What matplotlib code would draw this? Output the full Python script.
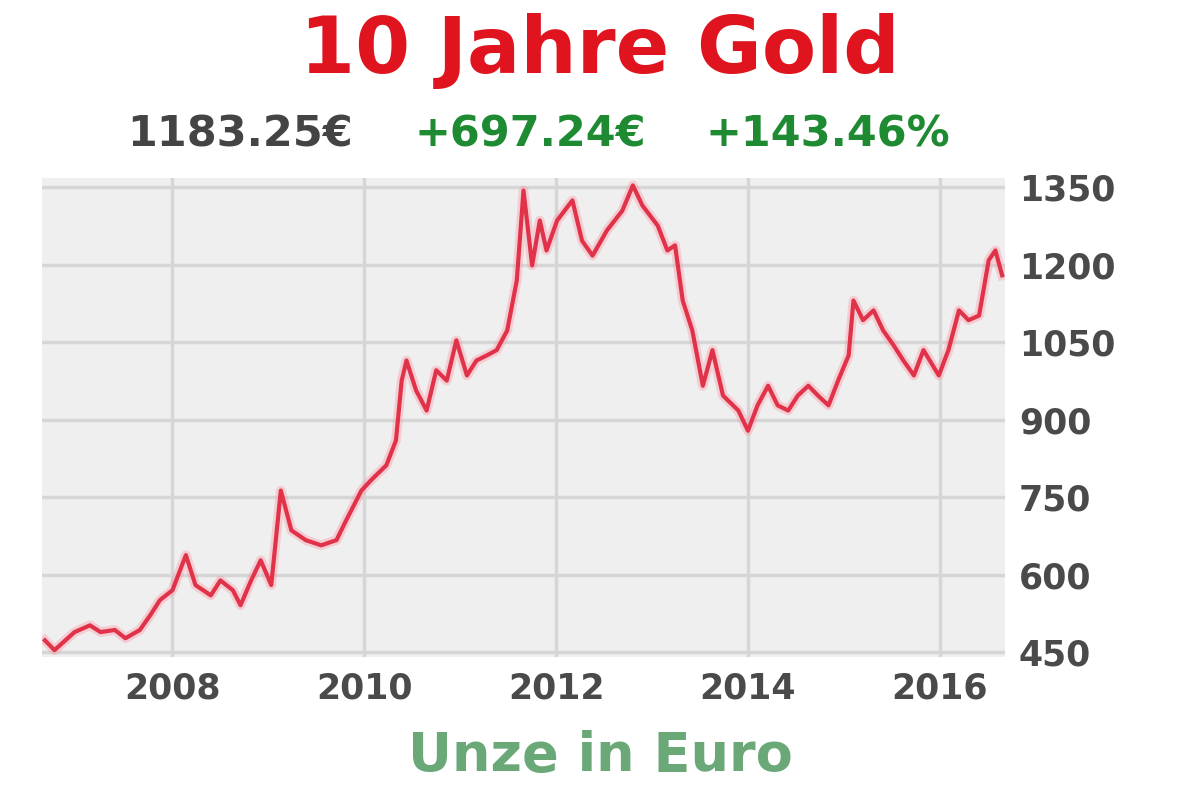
import matplotlib
matplotlib.use('Agg')
import matplotlib.pyplot as plt
import numpy as np

# Goldpreis in Euro je Unze, Werte aus dem Bild geschaetzt
jahre = [2006.67, 2006.77, 2006.98, 2007.14, 2007.25, 2007.40, 2007.51, 2007.66, 2007.77, 2007.87,
         2008.00, 2008.14, 2008.24, 2008.40, 2008.50, 2008.63, 2008.71, 2008.82, 2008.92, 2009.03,
         2009.13, 2009.24, 2009.39, 2009.55, 2009.71, 2009.81, 2009.97, 2010.07, 2010.23, 2010.33,
         2010.39, 2010.44, 2010.54, 2010.65, 2010.75, 2010.86, 2010.96, 2011.07, 2011.17, 2011.28,
         2011.38, 2011.49, 2011.59, 2011.66, 2011.75, 2011.83, 2011.90, 2012.01, 2012.17, 2012.27,
         2012.38, 2012.53, 2012.69, 2012.80, 2012.90, 2013.06, 2013.16, 2013.24, 2013.32, 2013.42,
         2013.53, 2013.63, 2013.74, 2013.90, 2014.00, 2014.10, 2014.21, 2014.31, 2014.42, 2014.52,
         2014.63, 2014.73, 2014.84, 2014.94, 2015.05, 2015.10, 2015.20, 2015.31, 2015.41, 2015.52,
         2015.62, 2015.73, 2015.83, 2015.99, 2016.09, 2016.20, 2016.30, 2016.41, 2016.51, 2016.58,
         2016.65]
preis = [473, 454, 489, 502, 489, 493, 477, 493, 522, 551,
         570, 638, 580, 560, 589, 570, 541, 589, 628, 580,
         763, 686, 667, 657, 667, 705, 763, 783, 812, 860,
         976, 1015, 957, 918, 996, 976, 1054, 986, 1015, 1025,
         1035, 1073, 1170, 1344, 1199, 1286, 1228, 1286, 1325, 1247,
         1218, 1267, 1305, 1354, 1315, 1276, 1228, 1238, 1131, 1073,
         966, 1035, 947, 918, 879, 928, 966, 928, 918, 947,
         966, 947, 928, 976, 1025, 1131, 1093, 1112, 1073, 1044,
         1015, 986, 1035, 986, 1035, 1112, 1093, 1102, 1209, 1228,
         1180]

x_ticks = [2008, 2010, 2012, 2014, 2016]
y_ticks = [450, 600, 750, 900, 1050, 1200, 1350]

titel = '10 Jahre Gold'
kurs = '1183.25€'
diff_abs = '+697.24€'
diff_pct = '+143.46%'
einheit = 'Unze in Euro'

fig = plt.figure(figsize=(12, 7.92), dpi=100)
ax = fig.add_axes([0.035, 0.170, 0.8025, 0.605])
ax.set_facecolor('#efefef')

ax.plot(jahre, preis, color='#ff8fa0', lw=7, alpha=0.35)
ax.plot(jahre, preis, color='#e0334a', lw=3)

ax.set_xlim(2006.64, 2016.68)
ax.set_ylim(440, 1368)
ax.set_xticks(x_ticks)
ax.set_yticks(y_ticks)
ax.yaxis.tick_right()
ax.grid(True, color='#d6d6d6', lw=2.5)
ax.set_axisbelow(True)
ax.tick_params(length=0, labelsize=25, labelcolor='#4a4a4a', pad=10)
for lab in ax.get_xticklabels() + ax.get_yticklabels():
    lab.set_fontweight('bold')
for s in ax.spines.values():
    s.set_visible(False)

fig.text(0.5, 0.935, titel, ha='center', va='center', fontsize=57,
         fontweight='bold', color='#e0141e')
fig.text(0.200, 0.830, kurs, ha='center', va='center', fontsize=31,
         fontweight='bold', color='#444444')
fig.text(0.442, 0.830, diff_abs, ha='center', va='center', fontsize=31,
         fontweight='bold', color='#1e8a32')
fig.text(0.690, 0.830, diff_pct, ha='center', va='center', fontsize=31,
         fontweight='bold', color='#1e8a32')
fig.text(0.5, 0.045, einheit, ha='center', va='center', fontsize=39,
         fontweight='bold', color='#6aa878')

fig.savefig('out.png', dpi=100, facecolor='white')
